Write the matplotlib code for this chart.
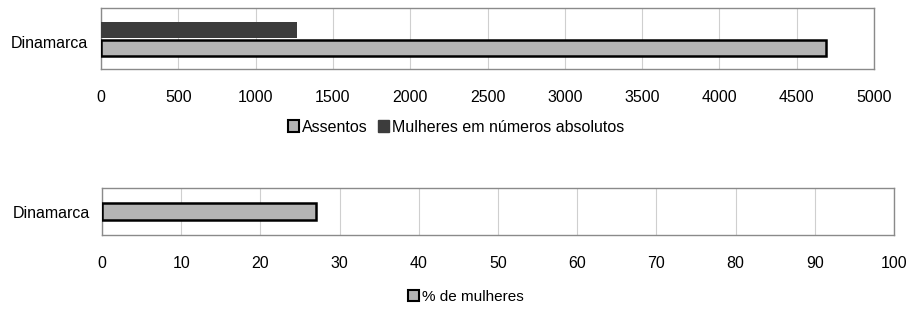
import matplotlib
matplotlib.use('Agg')
import matplotlib.pyplot as plt
from matplotlib.patches import Patch

plt.rcParams['font.family'] = ['Liberation Sans', 'DejaVu Sans']

# data
country = ['Dinamarca']
assentos = [4690]
mulheres_abs = [1270]
pct_mulheres = [27]

top_ticks = [0, 500, 1000, 1500, 2000, 2500, 3000, 3500, 4000, 4500, 5000]
bot_ticks = [0, 10, 20, 30, 40, 50, 60, 70, 80, 90, 100]

W, H = 909, 310
fig = plt.figure(figsize=(W / 100, H / 100), dpi=100)
fig.patch.set_facecolor('white')

light = '#b4b4b4'
dark = '#3c3c3c'
fs = 11.5


def style(ax, ticks, xmax, ypos):
    ax.set_xlim(0, xmax)
    ax.set_ylim(-0.5, 0.5)
    ax.set_xticks(ticks)
    ax.set_yticks([ypos])
    ax.set_yticklabels(country)
    ax.grid(axis='x', color='#cfcfcf', lw=0.8)
    ax.set_axisbelow(True)
    for s in ax.spines.values():
        s.set_color('#8a8a8a')
        s.set_linewidth(1.0)
    ax.tick_params(axis='x', length=0, pad=15, labelsize=fs)
    ax.tick_params(axis='y', length=0, pad=9, labelsize=fs)


# top chart
ax0 = fig.add_axes([101 / W, 1 - 69 / H, 773 / W, 61 / H])
ax0.barh([0.14], mulheres_abs, height=0.26, color=dark, edgecolor='none', zorder=3)
ax0.barh([-0.155], assentos, height=0.25, color=light, edgecolor='black', lw=1.8, zorder=3)
style(ax0, top_ticks, 5000, -0.05)

h0 = [Patch(facecolor=light, edgecolor='black', lw=1.5, label='Assentos'),
      Patch(facecolor=dark, edgecolor=dark, label='Mulheres em números absolutos')]
fig.legend(handles=h0, loc='center', bbox_to_anchor=(456 / W, 1 - 127 / H), ncol=2,
           frameon=False, fontsize=fs, handlelength=0.7, handleheight=0.7,
           handletextpad=0.2, columnspacing=0.6)

# bottom chart
ax1 = fig.add_axes([102 / W, 1 - 235 / H, 792 / W, 47 / H])
ax1.barh([0.0], pct_mulheres, height=0.36, color=light, edgecolor='black', lw=1.8, zorder=3)
style(ax1, bot_ticks, 100, 0.0)

h1 = [Patch(facecolor=light, edgecolor='black', lw=1.5, label='% de mulheres')]
fig.legend(handles=h1, loc='center', bbox_to_anchor=(466 / W, 1 - 297 / H),
           frameon=False, fontsize=fs - 0.5, handlelength=0.7, handleheight=0.7,
           handletextpad=0.2)

fig.savefig('out.png', dpi=100)
